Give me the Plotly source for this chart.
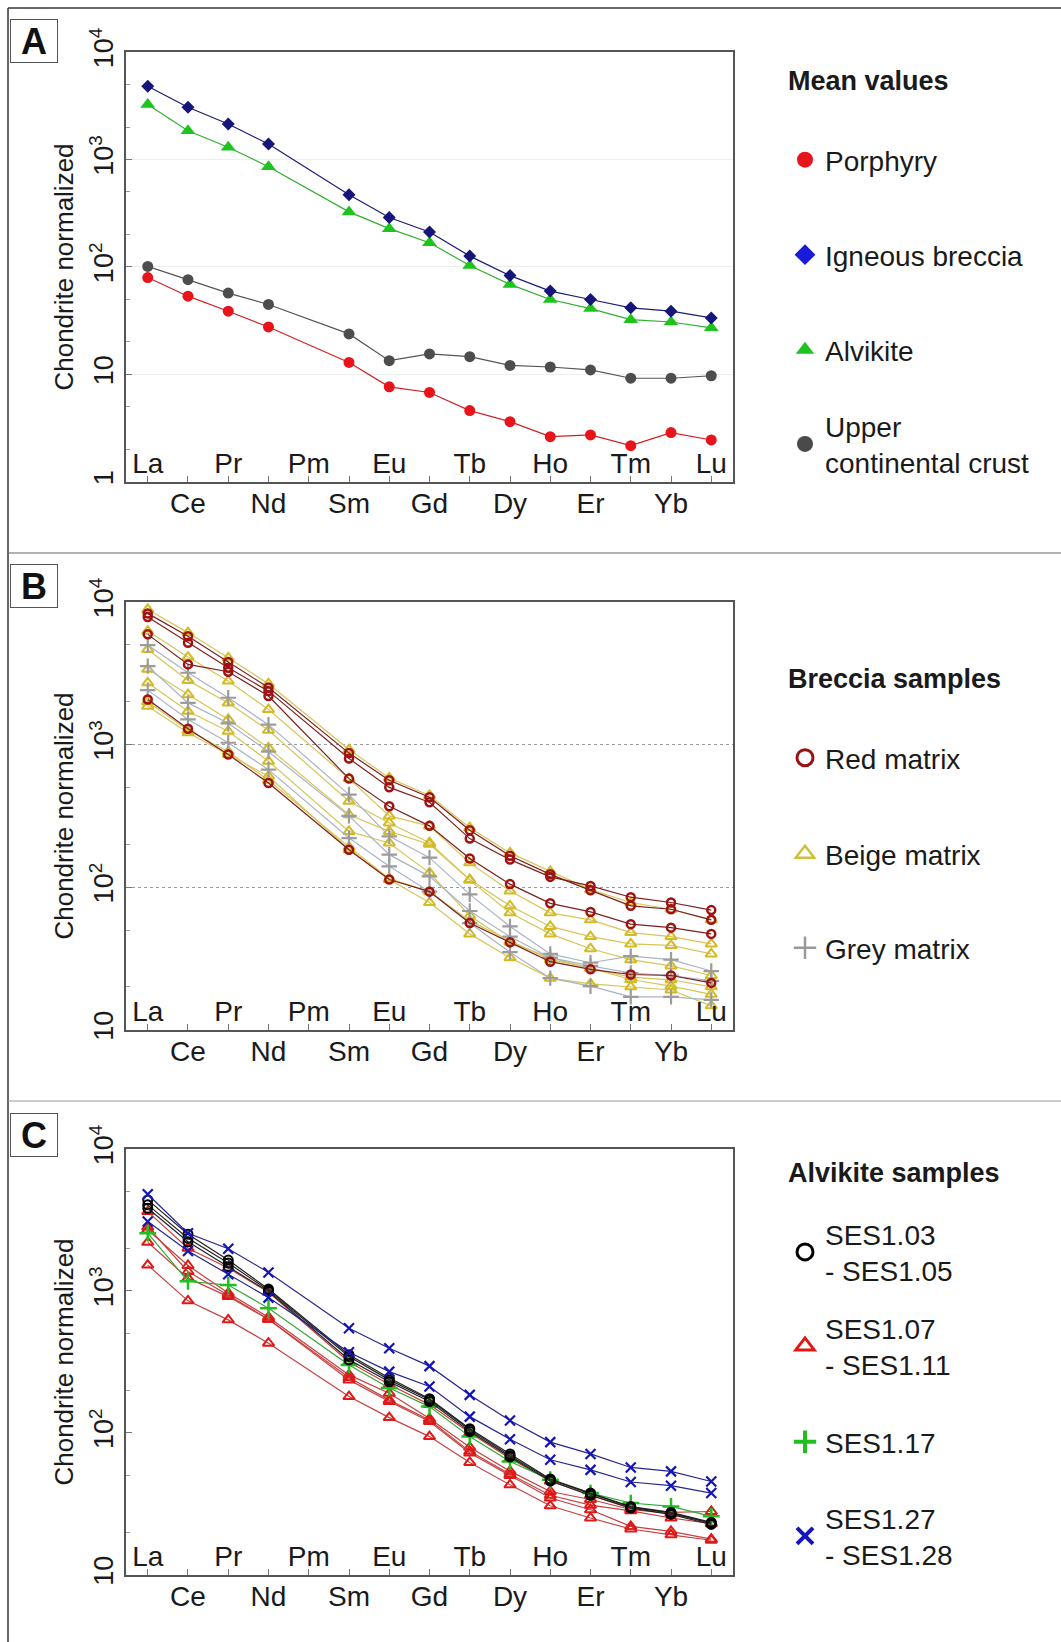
import plotly.graph_objects as go

W, H = 1061, 1642

elements = ["La", "Ce", "Pr", "Nd", "Pm", "Sm", "Eu", "Gd", "Tb", "Dy", "Ho", "Er", "Tm", "Yb", "Lu"]
x_idx = list(range(len(elements)))
inside_labels = elements[0::2]    # La Pr Pm Eu Tb Ho Tm Lu
outside_labels = elements[1::2]   # Ce Nd Sm Gd Dy Er Yb

# ---------------- Panel A: mean values ----------------
porphyry = [79.6, 53.4, 38.7, 27.6, None, 12.9, 7.65, 6.78, 4.6, 3.63, 2.63, 2.73, 2.17, 2.87, 2.45]
igneous_breccia = [4800, 3060, 2140, 1390, None, 469, 288, 211, 126, 83, 59.5, 49.7, 41.6, 38.7, 33.5]
alvikite = [3250, 1850, 1300, 856, None, 325, 227, 168, 103, 68.7, 49.7, 40.9, 32.3, 30.7, 27.1]
upper_crust = [101, 76, 57, 44.7, None, 23.8, 13.4, 15.5, 14.6, 12.1, 11.7, 11.0, 9.2, 9.2, 9.7]

# ---------------- Panel B: breccia samples ----------------
red_matrix = [
    [7850, 5180, 3460, 2370, None, 798, 501, 394, 219, 156, 118, 102, 85, 78, 69],
    [8320, 5750, 3800, 2510, None, 871, 562, 427, 251, 166, 123, 95, 74, 70, 59],
    [5930, 3650, 3240, 2190, None, 577, 369, 269, 159, 105, 77, 67, 55, 52, 47],
    [2070, 1290, 851, 538, None, 183, 113, 93, 56, 41, 30, 26.5, 24.4, 24, 21.3],
]
beige_matrix = [
    [8870, 6100, 4060, 2670, None, 923, 583, 440, 261, 174, 129, 96, 78, 70, 59],
    [6250, 4110, 2790, 1760, None, 577, 316, 268, 148, 94, 66, 59, 48, 45, 40],
    [4650, 2820, 1960, 1260, None, 400, 282, 205, 113, 74, 53, 45, 40, 39, 34],
    [3370, 2240, 1500, 948, None, 322, 246, 200, 112, 66, 47, 37, 31, 28, 24],
    [2710, 1710, 1240, 764, None, 246, 204, 126, 63, 41, 32, 27, 22.5, 20.2, 17.7],
    [2000, 1260, 891, 562, None, 191, 115, 93, 58, 42, 31, 27, 23.4, 22.4, 20],
    [1860, 1210, 851, 600, None, 183, 113, 78, 47, 32, 23, 21, 20, 19, 14.7],
]
grey_matrix = [
    [4990, 3190, 2130, 1380, None, 446, 227, 161, 89, 53, 34, 29.5, 32.8, 31, 25.8],
    [3550, 1960, 1410, 891, None, 316, 169, 119, 68, 45, 32, 28, 25, 24, 22],
    [2410, 1500, 1030, 667, None, 221, 140, 93, 56, 35, 23, 20.2, 17, 17, 16.2],
]

# ---------------- Panel C: alvikite samples ----------------
ses_103_105 = [
    [4380, 2510, 1650, 1030, None, 355, 243, 174, 107, 71, 47.3, 37.6, 30.2, 27.5, 23.4],
    [4040, 2350, 1570, 1010, None, 345, 236, 171, 105, 68.9, 46.7, 37.2, 30, 27.2, 23.1],
    [3820, 2220, 1480, 989, None, 327, 229, 166, 102, 67.6, 45.7, 36.3, 29.5, 26.6, 22.6],
]
ses_107_111 = [
    [3620, 2000, 1450, 977, None, 316, 219, 158, 100, 66, 45.7, 36.3, 29.5, 27.5, 27.9],
    [2690, 1510, 966, 653, None, 256, 190, 126, 79, 53.7, 38.6, 33.9, 28.8, 26.9, 23.1],
    [2820, 1370, 933, 631, None, 245, 170, 123, 74, 51, 36.3, 30.9, 28.2, 25.1, 22.9],
    [2200, 1230, 912, 631, None, 236, 166, 120, 72, 50, 34.7, 28.7, 21.9, 20.2, 17.8],
    [1520, 851, 625, 428, None, 180, 128, 94, 61.8, 43, 30.6, 25.1, 21, 19.1, 17.5],
]
ses_117 = [2550, 1170, 1100, 755, None, 301, 207, 153, 94, 62.8, 46.7, 37.6, 32, 30.3, 25.8]
ses_127_128 = [
    [4800, 2550, 1980, 1350, None, 546, 394, 295, 185, 122, 86, 71, 57, 53.5, 45.4],
    [3080, 1910, 1310, 897, None, 370, 270, 212, 130, 90, 64.6, 54.8, 45, 42.4, 37.6],
]

y_tickvals = [1, 10, 100, 1000, 10000]
y_ticktext = ["1", "10", "10<sup>2</sup>", "10<sup>3</sup>", "10<sup>4</sup>"]

SANS = "Liberation Sans, Arial, sans-serif"
TXT = "#1a1a1a"

fig = go.Figure()


def add_line(vals, xa, ya, line_color, marker):
    fig.add_trace(go.Scatter(
        x=x_idx, y=vals, xaxis=xa, yaxis=ya, mode="lines+markers",
        connectgaps=True, showlegend=False, hoverinfo="skip",
        line=dict(color=line_color, width=1.2), marker=marker))


def add_legend_item(name, legend, marker):
    fig.add_trace(go.Scatter(
        x=[None], y=[None], xaxis="x", yaxis="y", mode="markers", name=name,
        legend=legend, showlegend=True, hoverinfo="skip", marker=marker))


# Panel A traces
add_line(upper_crust, "x", "y", "#555555", dict(symbol="circle", size=11, color="#4d4d4d"))
add_line(porphyry, "x", "y", "#d02020", dict(symbol="circle", size=11, color="#e8141b"))
add_line(alvikite, "x", "y", "#2fae2f", dict(symbol="triangle-up", size=13, color="#1ec41e"))
add_line(igneous_breccia, "x", "y", "#1c1c7a", dict(symbol="diamond", size=10, color="#15157a"))

# Panel B traces
for s in beige_matrix:
    add_line(s, "x2", "y2", "#d6c65a", dict(symbol="triangle-up-open", size=10, color="#d2bb25", line=dict(width=2)))
for s in grey_matrix:
    add_line(s, "x2", "y2", "#a9b3c6", dict(symbol="cross-thin-open", size=11, color="#9c9c9c", line=dict(width=2.2)))
for s in red_matrix:
    add_line(s, "x2", "y2", "#7e1f1f", dict(symbol="circle-open", size=8, color="#a01212", line=dict(width=2.5)))

# Panel C traces
for s in ses_107_111:
    add_line(s, "x3", "y3", "#c84040", dict(symbol="triangle-up-open", size=10, color="#e01818", line=dict(width=2)))
add_line(ses_117, "x3", "y3", "#33aa33", dict(symbol="cross-thin-open", size=12, color="#1fbf1f", line=dict(width=2.5)))
for s in ses_103_105:
    add_line(s, "x3", "y3", "#222222", dict(symbol="circle-open", size=9, color="#000000", line=dict(width=2)))
for s in ses_127_128:
    add_line(s, "x3", "y3", "#262690", dict(symbol="x-thin-open", size=10, color="#1515b5", line=dict(width=2.2)))

# dummy traces so that the overlaying label axes are drawn
for xa, ya in [("x4", "y"), ("x5", "y2"), ("x6", "y3")]:
    fig.add_trace(go.Scatter(x=[None], y=[None], xaxis=xa, yaxis=ya, mode="markers",
                             showlegend=False, hoverinfo="skip"))

# Legend items (one legend per entry, placed like the reference)
legend_items = [
    ("Porphyry", dict(symbol="circle", size=30, color="#e8141b"), 160),
    ("Igneous breccia", dict(symbol="diamond", size=30, color="#1a1adb"), 255),
    ("Alvikite", dict(symbol="triangle-up", size=30, color="#1ec41e"), 350),
    ("Upper<br>continental crust", dict(symbol="circle", size=30, color="#4a4a4a"), 444),
    ("Red matrix", dict(symbol="circle-open", size=30, color="#9b1010", line=dict(width=3)), 758),
    ("Beige matrix", dict(symbol="triangle-up-open", size=30, color="#cfc03a", line=dict(width=2.5)), 854),
    ("Grey matrix", dict(symbol="cross-thin-open", size=30, color="#9a9a9a", line=dict(width=2.5)), 948),
    ("SES1.03<br>- SES1.05", dict(symbol="circle-open", size=30, color="#000000", line=dict(width=3)), 1252),
    ("SES1.07<br>- SES1.11", dict(symbol="triangle-up-open", size=30, color="#e01818", line=dict(width=3)), 1346),
    ("SES1.17", dict(symbol="cross-thin-open", size=30, color="#1fbf1f", line=dict(width=4)), 1442),
    ("SES1.27<br>- SES1.28", dict(symbol="x-thin-open", size=30, color="#1515c0", line=dict(width=4)), 1536),
]
legend_layout = {}
for i, (name, mk, yc) in enumerate(legend_items):
    key = "legend" if i == 0 else f"legend{i + 1}"
    add_legend_item(name, key, mk)
    legend_layout[key] = dict(x=785 / W, y=1 - yc / H, xanchor="left", yanchor="middle",
                              bgcolor="rgba(0,0,0,0)", font=dict(family=SANS, size=28, color=TXT),
                              itemsizing="trace", tracegroupgap=0)

xdom = [126 / W, 733 / W]
ydoms = {"y": [1 - 482 / H, 1 - 52 / H], "y2": [1 - 1030 / H, 1 - 602 / H], "y3": [1 - 1575 / H, 1 - 1149 / H]}
yranges = {"y": [0, 4], "y2": [1, 4], "y3": [1, 4]}
grid = {"y": (True, "#eeeeee", "solid"), "y2": (True, "#9a9a9a", "dot"), "y3": (False, "#eeeeee", "solid")}

layout = dict(width=W, height=H, margin=dict(l=0, r=0, t=0, b=0, autoexpand=False),
              paper_bgcolor="white", plot_bgcolor="white", showlegend=True)

xr = [-0.54, 14.54]
for base, over, ya in [("x", "x4", "y"), ("x2", "x5", "y2"), ("x3", "x6", "y3")]:
    bkey = "xaxis" if base == "x" else "xaxis" + base[1:]
    okey = "xaxis" + over[1:]
    layout[bkey] = dict(domain=xdom, range=xr, anchor=ya, tickmode="array", automargin=False,
                        tickvals=x_idx[1::2], ticktext=outside_labels, ticks="inside", ticklen=6,
                        tickcolor="#777", showline=True, mirror=True, linecolor="#555", linewidth=1.5,
                        showgrid=False, zeroline=False, ticklabelstandoff=-4,
                        tickfont=dict(family=SANS, size=28, color=TXT))
    layout[okey] = dict(overlaying=base, range=xr, anchor=ya, side="bottom", tickmode="array",
                        automargin=False,
                        tickvals=x_idx[0::2], ticktext=inside_labels, ticks="inside", ticklen=6,
                        tickcolor="#777", showline=False,
                        showgrid=False, zeroline=False, ticklabelstandoff=-38,
                        tickfont=dict(family=SANS, size=28, color=TXT))

for ya, xa in [("y", "x"), ("y2", "x2"), ("y3", "x3")]:
    key = "yaxis" if ya == "y" else "yaxis" + ya[1:]
    lo, hi = yranges[ya]
    minors = [m * 10 ** d for d in range(lo, hi) for m in (2, 5)]
    sg, gc, gd = grid[ya]
    layout[key] = dict(type="log", domain=ydoms[ya], range=[lo - 0.002, hi], anchor=xa, automargin=False,
                       tickmode="array", tickvals=[v for v in y_tickvals if 10 ** lo <= v <= 10 ** hi],
                       ticktext=[t for v, t in zip(y_tickvals, y_ticktext) if 10 ** lo <= v <= 10 ** hi],
                       tickangle=-90, ticks="inside", ticklen=6, tickcolor="#777",
                       showline=True, mirror=True, linecolor="#555", linewidth=1.5,
                       showgrid=sg, gridcolor=gc, griddash=gd, gridwidth=1, zeroline=False,
                       tickfont=dict(family=SANS, size=27, color=TXT),
                       minor=dict(tickmode="array", tickvals=minors, ticks="inside", ticklen=4,
                                  tickcolor="#999", showgrid=False),
                       title=dict(text="Chondrite normalized", standoff=4,
                                  font=dict(family=SANS, size=26, color=TXT)))

layout.update(legend_layout)

annotations = []
for letter, yc in [("A", 41), ("B", 586), ("C", 1135)]:
    annotations.append(dict(text=f"<b>{letter}</b>", x=34 / W, y=1 - yc / H, xref="paper", yref="paper",
                            showarrow=False, xanchor="center", yanchor="middle",
                            font=dict(family=SANS, size=36, color="#111"),
                            bordercolor="#555", borderwidth=1, width=44, height=40))
for title, yc in [("Mean values", 81), ("Breccia samples", 679), ("Alvikite samples", 1173)]:
    annotations.append(dict(text=f"<b>{title}</b>", x=786 / W, y=1 - yc / H, xref="paper", yref="paper",
                            showarrow=False, xanchor="left", yanchor="middle",
                            font=dict(family=SANS, size=27, color=TXT)))
layout["annotations"] = annotations

shapes = [
    dict(type="line", xref="paper", yref="paper", x0=8 / W, x1=1, y0=1 - 8 / H, y1=1 - 8 / H,
         line=dict(color="#333", width=1.5)),
    dict(type="line", xref="paper", yref="paper", x0=8 / W, x1=8 / W, y0=0, y1=1 - 8 / H,
         line=dict(color="#333", width=1.5)),
    dict(type="line", xref="paper", yref="paper", x0=8 / W, x1=1, y0=1 - 553 / H, y1=1 - 553 / H,
         line=dict(color="#666", width=1)),
    dict(type="line", xref="paper", yref="paper", x0=8 / W, x1=1, y0=1 - 1101 / H, y1=1 - 1101 / H,
         line=dict(color="#999", width=1)),
]
layout["shapes"] = shapes

fig.update_layout(**layout)
fig.write_html("out.html")
